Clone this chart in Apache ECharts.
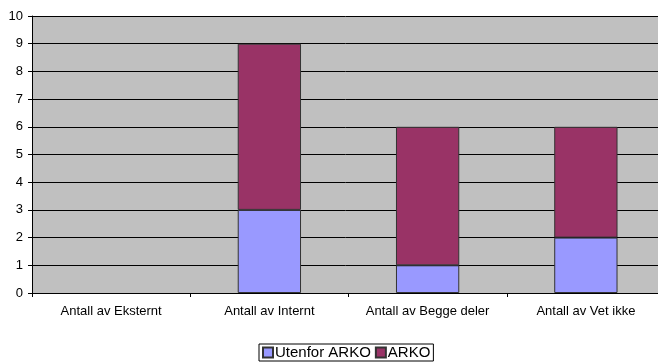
<!DOCTYPE html>
<html>
<head>
<meta charset="utf-8">
<script src="https://cdn.jsdelivr.net/npm/echarts@6/dist/echarts.min.js"></script>
<style>
  html, body { margin: 0; padding: 0; background: #fff; overflow: hidden; }
  #chart { width: 658px; height: 362px; }
</style>
</head>
<body>
<div id="chart"></div>
<script>
const categories = ['Antall av Eksternt', 'Antall av Internt', 'Antall av Begge deler', 'Antall av Vet ikke']
const utenforArko = [0, 3, 1, 2]
const arko = [0, 6, 5, 4]

const chart = echarts.init(document.getElementById('chart'))

const font = 'Arial, "Liberation Sans", sans-serif'
// empty stacks are not drawn in the original
const hideZero = (arr) => arr.map((v) => (v === 0 ? '-' : v))

chart.setOption({
  animation: false,
  textStyle: { fontFamily: font, color: '#000' },
  grid: {
    left: 32,
    right: -7,
    top: 16,
    bottom: 69,
    outerBoundsMode: 'none',
    show: true,
    backgroundColor: '#c0c0c0',
    borderWidth: 0
  },
  legend: {
    bottom: 1,
    left: 259,
    icon: 'rect',
    itemWidth: 10,
    itemHeight: 10,
    itemGap: 4,
    padding: [1, 3, 1, 3],
    borderColor: '#000',
    borderWidth: 1,
    textStyle: { fontFamily: font, fontSize: 15, color: '#000', padding: [0, 0, 0, -3] },
    data: ['Utenfor ARKO', 'ARKO']
  },
  xAxis: {
    type: 'category',
    data: categories,
    axisLine: { lineStyle: { color: '#000', width: 1 } },
    axisTick: { show: true, interval: 0, alignWithLabel: false, length: 4, lineStyle: { color: '#000' } },
    axisLabel: { interval: 0, hideOverlap: false, fontSize: 13, color: '#000', margin: 12, fontFamily: font }
  },
  yAxis: {
    type: 'value',
    min: 0,
    max: 10,
    interval: 1,
    axisLine: { show: true, lineStyle: { color: '#000', width: 1 } },
    axisTick: { show: true, length: 4, lineStyle: { color: '#000' } },
    axisLabel: { fontSize: 13, color: '#000', margin: 9, fontFamily: font },
    splitLine: { show: true, lineStyle: { color: '#000', width: 1 } }
  },
  series: [
    {
      name: 'Utenfor ARKO',
      type: 'bar',
      stack: 'total',
      barWidth: '40%',
      data: hideZero(utenforArko),
      itemStyle: { color: '#9999ff', borderColor: '#333', borderWidth: 1 }
    },
    {
      name: 'ARKO',
      type: 'bar',
      stack: 'total',
      data: hideZero(arko),
      itemStyle: { color: '#993366', borderColor: '#333', borderWidth: 1 }
    }
  ]
})
</script>
</body>
</html>
